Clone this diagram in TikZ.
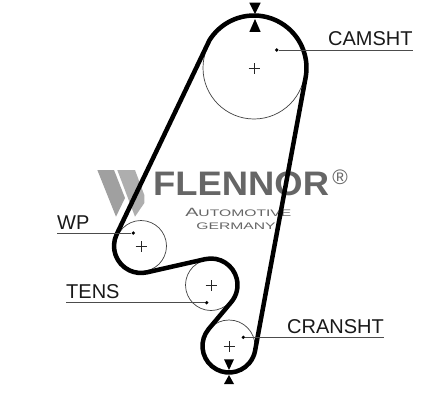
\documentclass[tikz,border=0pt]{standalone}
\usepackage{fontspec}
\setmainfont{Liberation Sans}
\usetikzlibrary{calc}
\definecolor{logogray}{HTML}{666666}
\definecolor{wgray}{HTML}{A0A0A0}
\tikzset{
  x=1pt,y=1pt,
  pulley/.style={circle,draw=black!75,line width=0.7pt,inner sep=0pt,minimum size=#1*2pt},
  belt/.style={line width=4.5pt,line join=round,black},
  leader/.style={line width=0.9pt,black!70},
  tdot/.style={circle,fill=black,inner sep=0pt,minimum size=3.6pt},
  lbl/.style={font=\fontsize{20}{24}\selectfont,inner sep=0pt,anchor=base west,text=black!90},
  crosshair/.style={line width=0.6pt,black!85},
  tri/.style={fill=black,draw=none},
  logotext/.style={inner sep=0pt,anchor=base,text=logogray,font=\fontsize{9.5}{11}\selectfont,xscale=1.65}
}
\newcommand{\plusat}[1]{\draw[crosshair] ($(#1)+(-5.5,0)$) -- ($(#1)+(5.5,0)$) ($(#1)+(0,-5.5)$) -- ($(#1)+(0,5.5)$);}
\begin{document}
\begin{tikzpicture}
\useasboundingbox (0,0) rectangle (444,400);
% logo
\fill[wgray] (97.3,230) -- (114,230) -- (125,202) -- (116,183.3) -- cycle;
\fill[wgray,fill opacity=.85] (117.3,230) -- (135,230) -- (144.3,205) -- (144.3,197) -- (135,183.3) -- cycle;
\node[inner sep=0pt,anchor=base west,text=logogray,font=\fontsize{34}{40}\selectfont\bfseries,xscale=1.07] (brand) at (153,205) {FLENNOR};
\node[inner sep=0pt,anchor=center,text=logogray,font=\fontsize{21}{24}\selectfont] (reg) at (340,223) {®};
\node[logotext] (auto) at (238.3,183.3) {{\fontsize{12}{12}\selectfont A}UTOMOTIVE};
\node[logotext] (germ) at (236,171) {GERMANY};
% pulleys
\node[pulley=51] (cam) at (254,332) {};
\node[pulley=25.5] (wp) at (141,154) {};
\node[pulley=25.5] (tens) at (211,115) {};
\node[pulley=26] (crank) at (229,54) {};
\plusat{cam}\plusat{wp}\plusat{tens}\plusat{crank}
% belt
\draw[belt] ($(cam)+(90:52.5)$) arc[start angle=90,end angle=148,radius=52.5]
  -- ($(wp)+(154.5:27)$) arc[start angle=154.5,end angle=282.8,radius=27]
  -- ($(tens)+(102.8:26.5)$) arc[start angle=102.8,end angle=-40,radius=26.5]
  -- ($(crank)+(140:26.5)$) arc[start angle=140,end angle=349.5,radius=26.5]
  -- ($(cam)+(-10.5:52.5)$) arc[start angle=-10.5,end angle=90,radius=52.5] -- cycle;
% timing marks
\fill[tri] (249.3,397.3) -- (260.7,397.3) -- (255,386) -- cycle;
\fill[tri] (249.3,368) -- (260.7,368) -- (255,381) -- cycle;
\fill[tri] (224,40.7) -- (234,40.7) -- (229,30) -- cycle;
\fill[tri] (224,16) -- (234,16) -- (229,25) -- cycle;
% leaders
\node[tdot] (camdot) at (276.7,350) {};
\coordinate (camend) at (413,350);
\draw[leader] (camdot) -- (camend);
\node[lbl] (camlbl) at (328,354) {CAMSHT};
\node[tdot] (wpdot) at (133.3,167) {};
\coordinate (wpend) at (56.7,167);
\draw[leader] (wpdot) -- (wpend);
\node[lbl] (wplbl) at (57,170.7) {WP};
\node[tdot] (tensdot) at (206.7,97.3) {};
\coordinate (tensend) at (65.7,97.3);
\draw[leader] (tensdot) -- (tensend);
\node[lbl] (tenslbl) at (66,101.7) {TENS};
\node[tdot] (crankdot) at (243.3,62.7) {};
\coordinate (crankend) at (384,62.7);
\draw[leader] (crankdot) -- (crankend);
\node[lbl] (cranklbl) at (287,67) {CRANSHT};
\end{tikzpicture}
\end{document}
